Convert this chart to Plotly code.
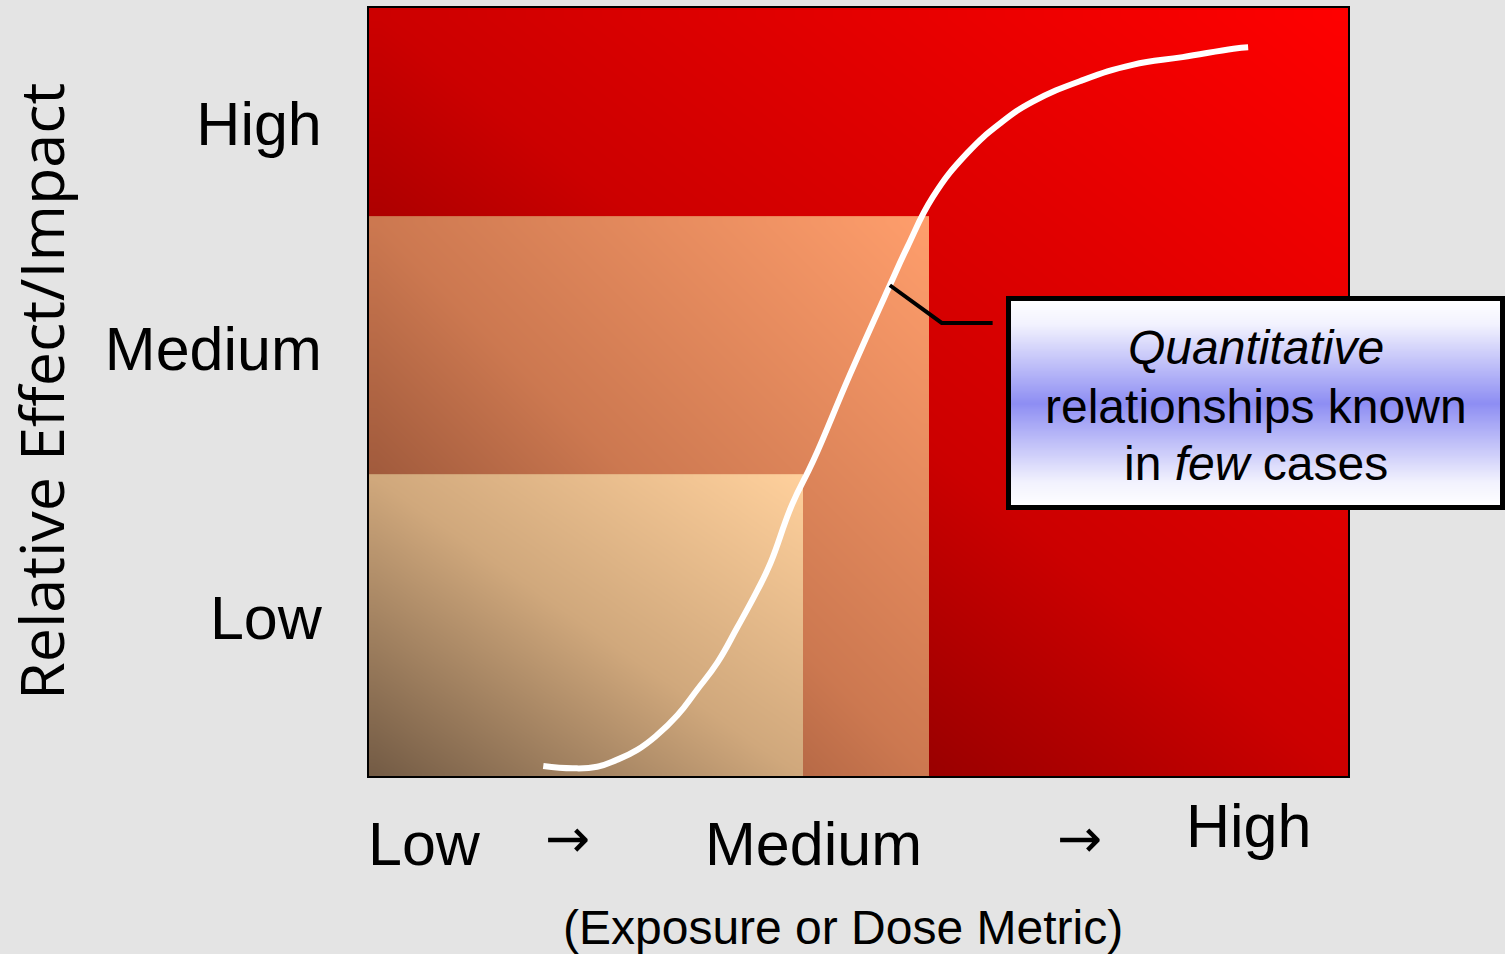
import plotly.graph_objects as go

W, H = 1505, 954

# ---------------- data ----------------
# dose-response curve (dose 0-10, effect 0-10)
curve_x = [1.78, 2.08, 2.33, 2.53, 2.74, 2.94, 3.15, 3.35, 3.56, 3.76, 3.96,
           4.10, 4.32, 4.54, 4.91, 5.32, 5.50, 5.76, 6.11, 6.45, 6.78, 7.29,
           7.80, 8.31, 8.83, 8.98]
curve_y = [0.13, 0.10, 0.12, 0.21, 0.34, 0.53, 0.79, 1.12, 1.48, 1.93, 2.40,
           2.77, 3.53, 4.11, 5.22, 6.39, 6.89, 7.54, 8.11, 8.50, 8.78, 9.06,
           9.26, 9.36, 9.47, 9.49]

# leader line from the curve to the callout
leader_x = [5.32, 5.85, 6.37]
leader_y = [6.39, 5.90, 5.90]

# zones: (x extent, y extent)
zone_names = ["High", "Medium", "Low"]
zone_x = [10.0, 5.72, 4.43]
zone_y = [10.0, 7.29, 3.93]

y_tick_labels = ["Low", "Medium", "High"]
y_tick_vals = [2.06, 5.57, 8.50]

x_level_labels = ["Low", "Medium", "High"]
x_level_pos = [0.57, 4.54, 8.98]
arrow_pos = [2.03, 7.26]

callout_lines = ["<i>Quantitative</i>", "relationships known", "in <i>few</i> cases"]

# ---------------- styling ----------------
FONT = "Liberation Sans, Arial, sans-serif"
zone_scales = [
    [[0, "#700000"], [0.29, "#9a0000"], [0.5, "#cc0000"], [1, "#ff0000"]],
    [[0, "#7c4028"], [0.27, "#a05a3c"], [0.5, "#cc7850"], [1, "#ff9e6c"]],
    [[0, "#725a44"], [0.5, "#d0a87c"], [1, "#ffd09c"]],
]


def diag_heatmap(x1, y1, cs, n=40):
    xe = [x1 * i / n for i in range(n + 1)]
    ye = [y1 * j / n for j in range(n + 1)]
    z = [[((i + 0.5) / n + (j + 0.5) / n) / 2 for i in range(n)] for j in range(n)]
    return go.Heatmap(x=xe, y=ye, z=z, zmin=0, zmax=1, colorscale=cs,
                      zsmooth="best", showscale=False, hoverinfo="skip",
                      xaxis="x", yaxis="y")


fig = go.Figure()
for xs, ys, cs in zip(zone_x, zone_y, zone_scales):
    fig.add_trace(diag_heatmap(xs, ys, cs))

fig.add_trace(go.Scatter(x=curve_x, y=curve_y, mode="lines",
                         line=dict(color="white", width=6, shape="spline", smoothing=1.3),
                         hoverinfo="skip", showlegend=False))
fig.add_trace(go.Scatter(x=leader_x, y=leader_y, mode="lines",
                         line=dict(color="black", width=4),
                         hoverinfo="skip", showlegend=False))

# callout gradient on its own axes
n = 60
fig.add_trace(go.Heatmap(
    x=[0, 1], y=[j / n for j in range(n + 1)],
    z=[[(j + 0.5) / n] for j in range(n)], zmin=0, zmax=1,
    colorscale=[[0, "#ffffff"], [0.12, "#f3f3fe"], [0.5, "#8e8ef3"],
                [0.88, "#f3f3fe"], [1, "#ffffff"]],
    zsmooth="best", showscale=False, hoverinfo="skip", xaxis="x2", yaxis="y2"))


def px(p):
    return p / W


def py(p):
    return 1 - p / H


box = (1008.5, 298.5, 1502.5, 507.5)

annotations = []
for lab, xp in zip(x_level_labels, x_level_pos):
    ycen = 826 if lab == "High" else 844
    annotations.append(dict(x=xp, xref="x", y=py(ycen), yref="paper", text=lab,
                            showarrow=False, xanchor="center", yanchor="middle",
                            font=dict(family=FONT, size=61, color="black")))
for xp in arrow_pos:
    annotations.append(dict(x=xp, xref="x", y=py(838), yref="paper", text="→",
                            showarrow=False, xanchor="center", yanchor="middle",
                            font=dict(family="DejaVu Sans, sans-serif", size=54,
                                      color="black")))
annotations.append(dict(x=px(843), xref="paper", y=py(927), yref="paper",
                        text="(Exposure or Dose Metric)", showarrow=False,
                        xanchor="center", yanchor="middle",
                        font=dict(family=FONT, size=48, color="black")))
annotations.append(dict(x=px(40), xref="paper", y=py(392), yref="paper",
                        text="Relative Effect/Impact", textangle=-90, showarrow=False,
                        xanchor="center", yanchor="middle",
                        font=dict(family="Open Sans, sans-serif", size=61, color="black")))
for line, yc in zip(callout_lines, [348, 406, 463]):
    annotations.append(dict(x=px(1256), xref="paper", y=py(yc), yref="paper",
                            text=line, showarrow=False,
                            xanchor="center", yanchor="middle", align="center",
                            font=dict(family=FONT, size=48, color="black")))

fig.update_layout(
    width=W, height=H,
    margin=dict(l=0, r=0, t=0, b=0),
    paper_bgcolor="#e4e4e4",
    plot_bgcolor="rgba(0,0,0,0)",
    showlegend=False,
    xaxis=dict(domain=[px(369), px(1348)], range=[0, 10], showgrid=False,
               zeroline=False, showticklabels=False, ticks="",
               showline=True, mirror=True, linecolor="black", linewidth=2,
               fixedrange=True),
    yaxis=dict(domain=[py(776), py(8)], range=[0, 10], showgrid=False,
               zeroline=False, tickvals=y_tick_vals, ticktext=y_tick_labels,
               ticks="", ticklabelstandoff=33,
               tickfont=dict(family=FONT, size=61, color="black"),
               showline=True, mirror=True, linecolor="black", linewidth=2,
               fixedrange=True),
    xaxis2=dict(domain=[px(box[0]), px(box[2])], range=[0, 1], visible=False,
                anchor="y2", fixedrange=True),
    yaxis2=dict(domain=[py(box[3]), py(box[1])], range=[0, 1], visible=False,
                anchor="x2", fixedrange=True),
    annotations=annotations,
    shapes=[dict(type="rect", xref="paper", yref="paper",
                 x0=px(box[0]), x1=px(box[2]), y0=py(box[3]), y1=py(box[1]),
                 line=dict(color="black", width=5), fillcolor="rgba(0,0,0,0)",
                 layer="above")],
)

fig.write_html("out.html")
